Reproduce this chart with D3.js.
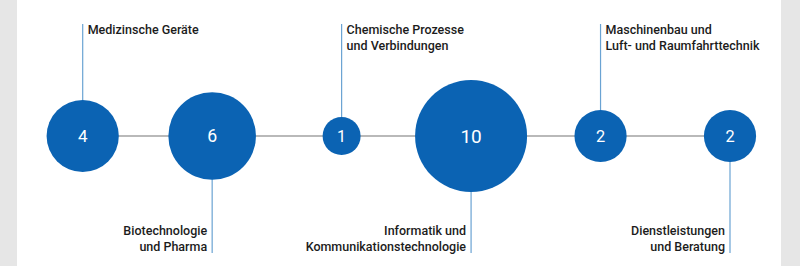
<!DOCTYPE html>
<html>
<head>
<meta charset="utf-8">
<script src="https://cdn.jsdelivr.net/npm/d3@7"></script>
<style>
  html, body { margin: 0; padding: 0; background: #e6e6e6; }
  svg { display: block; }
</style>
</head>
<body>
<svg id="chart" width="800" height="266"></svg>
<script>
// ---- data ----
const categories = [
  ["Medizinsche Geräte"],
  ["Biotechnologie", "und Pharma"],
  ["Chemische Prozesse", "und Verbindungen"],
  ["Informatik und", "Kommunikationstechnologie"],
  ["Maschinenbau und", "Luft- und Raumfahrttechnik"],
  ["Dienstleistungen", "und Beratung"]
];
const values = [4, 6, 1, 10, 2, 2];
const labelSide = ["top", "bottom", "top", "bottom", "top", "bottom"];

// ---- layout ----
const W = 800, H = 266;
const panelX0 = 17, panelX1 = 781;
const cy = 136;
const svg = d3.select("#chart");

svg.append("rect").attr("x", 0).attr("y", 0).attr("width", W).attr("height", H).attr("fill", "#e6e6e6");
svg.append("rect").attr("x", panelX0).attr("y", 0).attr("width", panelX1 - panelX0).attr("height", H).attr("fill", "#ffffff");

const idx = d3.range(values.length);
const x = d3.scalePoint().domain(idx).range([82.7, 730]);
const r = d3.scaleSqrt().domain([0, 10]).range([1.9, 56]);
const fs = d3.scaleLinear().domain([1, 10]).range([16, 19]);

// connecting line
svg.append("line")
  .attr("x1", x(0)).attr("x2", x(idx.length - 1))
  .attr("y1", cy).attr("y2", cy)
  .attr("stroke", "#b9b9b9").attr("stroke-width", 2);

const topY = 24, botY = 253;

// leader lines
svg.selectAll("line.leader").data(idx).join("line")
  .attr("class", "leader")
  .attr("x1", i => x(i)).attr("x2", i => x(i))
  .attr("y1", i => labelSide[i] === "top" ? topY : cy)
  .attr("y2", i => labelSide[i] === "top" ? cy : botY)
  .attr("stroke", "#6aa3d3").attr("stroke-width", 1.2);

// circles
svg.selectAll("circle").data(idx).join("circle")
  .attr("cx", i => x(i)).attr("cy", cy)
  .attr("r", i => r(values[i]))
  .attr("fill", "#0b63b3");

// numbers
svg.selectAll("text.val").data(idx).join("text")
  .attr("class", "val")
  .attr("x", i => x(i)).attr("y", cy)
  .attr("dy", "0.36em")
  .attr("text-anchor", "middle")
  .attr("font-family", "Roboto, 'DejaVu Sans', sans-serif")
  .attr("font-size", i => fs(values[i]))
  .attr("fill", "#ffffff")
  .text(i => values[i]);

// labels
const lab = svg.selectAll("text.lab").data(idx).join("text")
  .attr("class", "lab")
  .attr("font-family", "Roboto, 'DejaVu Sans', sans-serif")
  .attr("font-size", 12.5)
  .attr("font-weight", 500)
  .attr("fill", "#1c1c1c")
  .attr("text-anchor", i => labelSide[i] === "top" ? "start" : "end")
  .attr("x", i => labelSide[i] === "top" ? x(i) + 5 : x(i) - 5)
  .attr("y", i => labelSide[i] === "top" ? 34 : 251 - 16 * (categories[i].length - 1));

lab.each(function(i) {
  const t = d3.select(this);
  categories[i].forEach((line, k) => {
    t.append("tspan")
      .attr("x", labelSide[i] === "top" ? x(i) + 5 : x(i) - 5)
      .attr("dy", k === 0 ? 0 : 16)
      .text(line);
  });
});
</script>
</body>
</html>
